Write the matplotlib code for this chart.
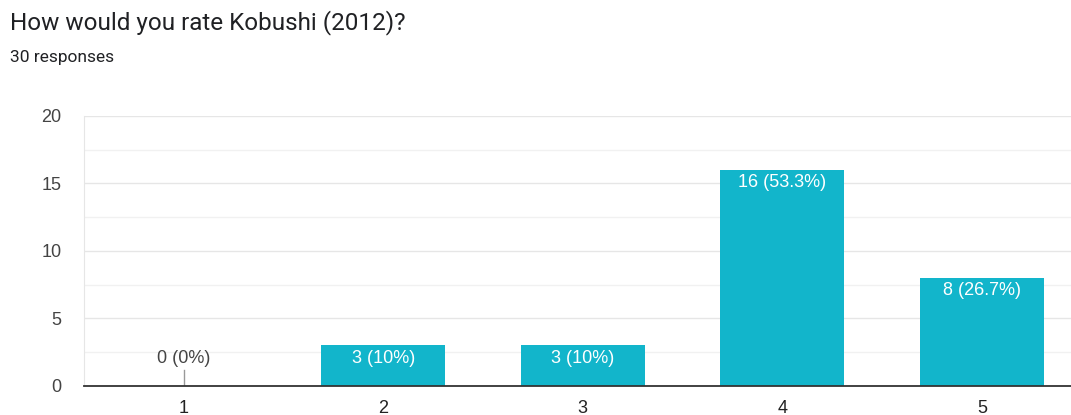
import matplotlib.pyplot as plt
from matplotlib.ticker import MultipleLocator

# Survey results
ratings = ['1', '2', '3', '4', '5']
counts = [0, 3, 3, 16, 8]
total = 30

plt.rcParams['font.family'] = ['Liberation Sans', 'DejaVu Sans']

fig = plt.figure(figsize=(10.71, 4.15), dpi=100)
fig.patch.set_facecolor('white')

fig.text(0.0093, 0.945, 'How would you rate Kobushi (2012)?', fontsize=17.5,
         color='#202124', va='center', ha='left', family='Roboto')
fig.text(0.0093, 0.862, '30 responses', fontsize=12.5, color='#202124',
         va='center', ha='left', family='Roboto')

ax = fig.add_axes([0.0784, 0.0699, 0.9216, 0.6506])
x = list(range(1, len(ratings) + 1))
ax.bar(x, counts, width=0.62, color='#12b5cb', zorder=3)

ax.set_xlim(0.5, 5.447)
ax.set_ylim(0, 20)
ax.yaxis.set_major_locator(MultipleLocator(5))
ax.yaxis.set_minor_locator(MultipleLocator(2.5))
ax.grid(axis='y', which='major', color='#e6e6e6', linewidth=1, zorder=0)
ax.grid(axis='y', which='minor', color='#f1f1f1', linewidth=1, zorder=0)
ax.set_xticks(x)
ax.set_xticklabels(ratings)
ax.tick_params(axis='both', which='both', length=0, labelsize=13, colors='#444444')
ax.tick_params(axis='x', pad=10, labelcolor='#222222')
ax.tick_params(axis='y', pad=16)

for s in ['top', 'right']:
    ax.spines[s].set_visible(False)
ax.spines['left'].set_color('#e6e6e6')
ax.spines['bottom'].set_color('#333333')
ax.spines['bottom'].set_linewidth(1.3)
ax.spines['bottom'].set_zorder(4)

for xi, c in zip(x, counts):
    label = f'{c} ({c / total * 100:.3g}%)'
    if c == 0:
        label = '0 (0%)'
        ax.plot([xi, xi], [0, 1.2], color='#999999', linewidth=1, zorder=4)
        ax.text(xi, 2.0, label, ha='center', va='center', fontsize=13,
                color='#444444', zorder=5)
    else:
        ax.text(xi, c - 0.95, label, ha='center', va='center', fontsize=13,
                color='white', zorder=5)

fig.savefig('out.png', dpi=100)
